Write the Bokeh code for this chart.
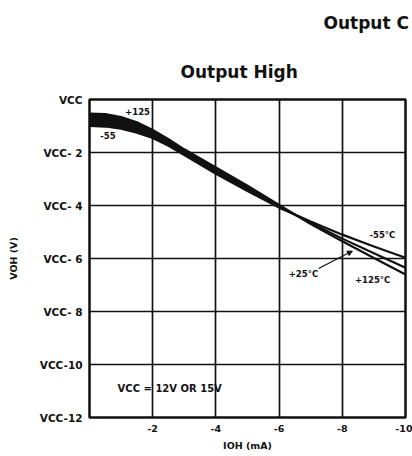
from bokeh.plotting import figure
from bokeh.models import Range1d, Label, Arrow, NormalHead, FixedTicker, Title
from bokeh.embed import file_html
from bokeh.resources import INLINE

# ---- data ----
current_ma = [0, -0.5, -1, -1.5, -2, -2.5, -3, -4, -5, -6, -7, -8, -9, -10]
vout_p125 = [-0.53, -0.55, -0.66, -0.86, -1.15, -1.5, -1.88, -2.56, -3.25, -3.98, -4.7, -5.35, -5.98, -6.6]
vout_p25 = [-0.78, -0.8, -0.9, -1.05, -1.3, -1.62, -2.0, -2.68, -3.36, -4.04, -4.65, -5.25, -5.8, -6.35]
vout_m55 = [-1.0, -1.02, -1.1, -1.25, -1.45, -1.75, -2.1, -2.8, -3.45, -4.08, -4.6, -5.1, -5.55, -5.97]
band_points = 10  # shaded overlap of the curves up to -6 mA

x_ticks = [-2, -4, -6, -8, -10]
x_tick_labels = ["-2", "-4", "-6", "-8", "-10"]
y_ticks = [0, -2, -4, -6, -8, -10, -12]
y_tick_labels = ["VCC", "VCC- 2", "VCC- 4", "VCC- 6", "VCC- 8", "VCC-10", "VCC-12"]

FONT = "DejaVu Sans"
INK = "#111111"

p = figure(width=412, height=456, x_range=Range1d(0, -10), y_range=Range1d(-12, 0),
           output_backend="svg", toolbar_location=None,
           min_border_left=89, min_border_right=7, min_border_top=99, min_border_bottom=39)
p.title = None
p.background_fill_color = "white"
p.border_fill_color = "white"
p.outline_line_color = INK
p.outline_line_width = 2.5

# axes
p.xaxis.ticker = FixedTicker(ticks=x_ticks)
p.xaxis.major_label_overrides = dict(zip(x_ticks, x_tick_labels))
p.yaxis.ticker = FixedTicker(ticks=y_ticks)
p.yaxis.major_label_overrides = dict(zip(y_ticks, y_tick_labels))
for ax in (p.xaxis, p.yaxis):
    ax.axis_line_color = None
    ax.major_tick_line_color = None
    ax.minor_tick_line_color = None
    ax.major_tick_out = 0
    ax.major_tick_in = 0
    ax.minor_tick_out = 0
    ax.major_label_text_font = FONT
    ax.major_label_text_font_style = "bold"
    ax.major_label_text_font_size = "9.5px"
    ax.major_label_text_color = INK
    ax.axis_label_text_font = FONT
    ax.axis_label_text_font_style = "bold"
    ax.axis_label_text_font_size = "9.5px"
    ax.axis_label_text_color = INK
p.yaxis.major_label_text_font_size = "10.5px"
p.xaxis.axis_label = "IOH (mA)"
p.yaxis.axis_label = "VOH (V)"
p.xaxis.major_label_standoff = 7
p.yaxis.major_label_standoff = 7
p.xaxis.axis_label_standoff = 5
p.yaxis.axis_label_standoff = 18

# grid
p.xgrid.ticker = FixedTicker(ticks=x_ticks)
p.ygrid.ticker = FixedTicker(ticks=y_ticks)
for g in (p.xgrid, p.ygrid):
    g.grid_line_color = INK
    g.grid_line_width = 1.7
    g.grid_line_alpha = 1.0

# curves
p.varea(x=current_ma[:band_points], y1=vout_m55[:band_points], y2=vout_p125[:band_points],
        fill_color=INK)
for ys in (vout_p125, vout_p25, vout_m55):
    p.line(current_ma, ys, line_color=INK, line_width=2.2)

# annotations
def lab(x, y, text, size="8.5px", align="center"):
    p.add_layout(Label(x=x, y=y, text=text, text_font=FONT, text_font_style="bold",
                       text_font_size=size, text_color=INK, text_align=align,
                       text_baseline="middle"))

lab(-1.52, -0.45, "+125")
lab(-0.585, -1.34, "-55")
lab(-9.27, -5.13, "-55°C")
lab(-6.77, -6.57, "+25°C")
lab(-8.96, -6.83, "+125°C")
lab(-0.89, -10.9, "VCC = 12V OR 15V", "10px", "left")

p.add_layout(Arrow(end=NormalHead(size=5, fill_color=INK, line_color=INK),
                   x_start=-7.25, y_start=-6.38, x_end=-8.32, y_end=-5.72,
                   line_color=INK, line_width=1.2))

# titles
p.add_layout(Title(text="Output High", align="left", offset=91, standoff=36,
                   text_font=FONT, text_font_style="bold", text_font_size="17px",
                   text_color=INK), "above")
p.add_layout(Title(text="Output C", align="left", offset=234, standoff=17,
                   text_font=FONT, text_font_style="bold", text_font_size="17px",
                   text_color=INK), "above")

open("out.html", "w").write(file_html(p, INLINE))
